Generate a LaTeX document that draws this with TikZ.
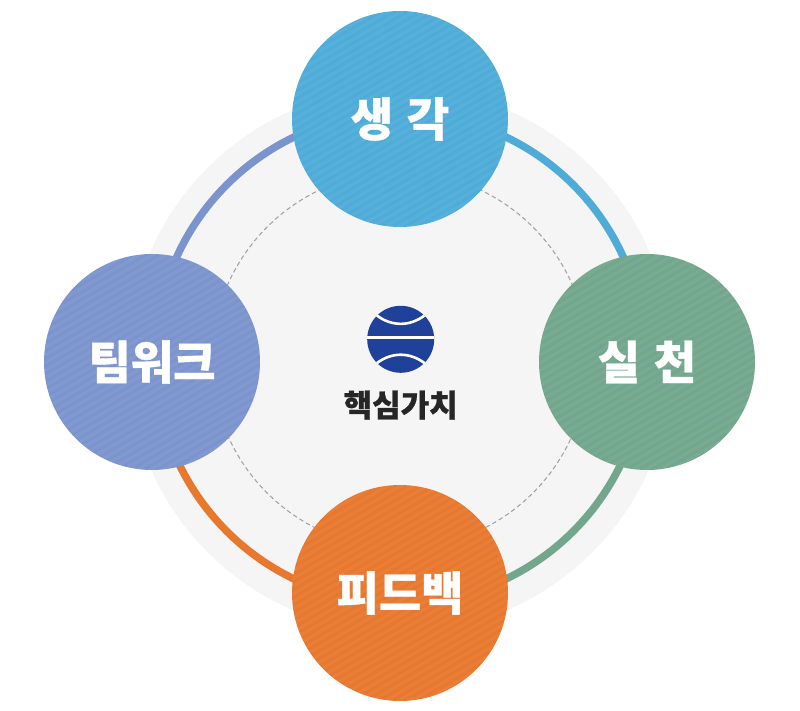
\documentclass[tikz,border=0pt]{standalone}
\usepackage{fontspec}
\setmainfont{Noto Sans CJK KR}[BoldFeatures={FakeBold=0.8}]
\usetikzlibrary{positioning}
\usetikzlibrary{calc}
\definecolor{sky}{HTML}{4FACD9}
\definecolor{sage}{HTML}{72A78D}
\definecolor{carrot}{HTML}{E8782E}
\definecolor{periwinkle}{HTML}{7C94CE}
\definecolor{ballblue}{HTML}{20419A}
\tikzset{
big/.style={circle,minimum size=216pt,inner sep=0pt,text=white,font=\fontsize{46}{46}\bfseries,
path picture={
\foreach \s in {-18,...,18} {
\draw[white,opacity=0.05,line width=3.2pt] ($(path picture bounding box.center)+(120:\s*6.6pt)+(30:-170pt)$) -- ($(path picture bounding box.center)+(120:\s*6.6pt)+(30:170pt)$);
}}},
ballline/.style={white,line width=2.6pt}
}
\begin{document}
\begin{tikzpicture}[x=1pt,y=1pt]
\useasboundingbox (0,0) rectangle (800,710);
\coordinate (mid) at (400,350);
\coordinate (ringmid) at (400,352);
\fill[black!4] (mid) circle (272);
% ring between the circles
\foreach \a/\col in {0/sage, 90/sky, 180/periwinkle, 270/carrot} {
\draw[\col,line width=7.5pt] ($(ringmid)+(\a-90:245)$) arc (\a-90:\a:245);
}
\draw[black!38,line width=1pt,dash pattern=on 4.5pt off 3pt] (mid) circle (188);

\node (think) at (400,591) [big,fill=sky] {생\hspace{0.3em}각};
\node (team) at (152,348) [big,fill=periwinkle] {팀워크};
\node (act) at (647,348) [big,fill=sage] {실\hspace{0.3em}천};
\node (back) at (400,117) [big,fill=carrot] {피드백};

\node (ball) at (400.7,370.7) [circle,fill=ballblue,minimum size=67pt,inner sep=0pt] {};
\node (core) [below=14pt of ball,font=\fontsize{31}{31}\bfseries,text=black!85] {핵심가치};
\draw[ballline,line width=3pt] ($(ball.center)+(-33.5,1.6)$) -- +(67,0);
\draw[ballline] (ball.135) to[bend right=37] (ball.45);
\draw[ballline] (ball.-135) to[bend left=37] (ball.-45);
\end{tikzpicture}
\end{document}
